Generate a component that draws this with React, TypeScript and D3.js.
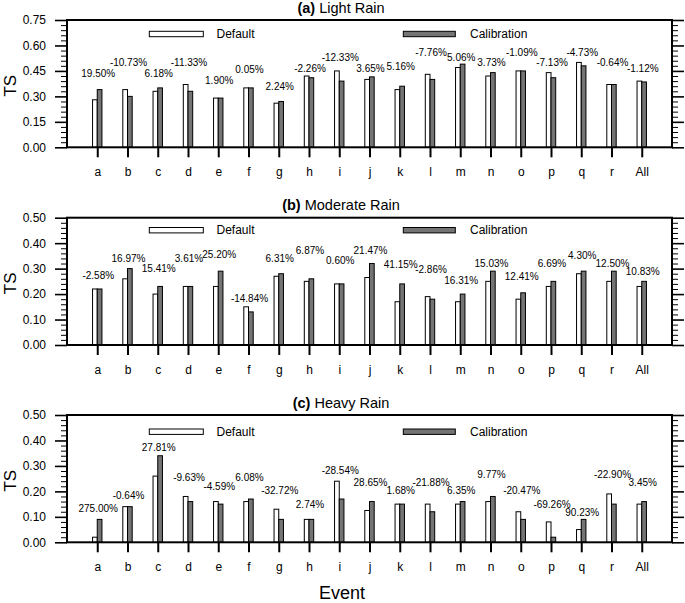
import React, { useEffect, useRef } from "react";
import { scaleLinear, scalePoint, axisLeft, axisRight, axisBottom, select, range, format } from "d3";

const width = 685;
const height = 603;
const FONT = "'Liberation Sans', Arial, Helvetica, sans-serif";

const plotLeft = 67;
const plotRight = 672;
const plotHeight = 127.3;
const panelTops = [20, 217.7, 415];
const legendOffsets = [14, 12.5, 16.7];

// data
const events = ["a", "b", "c", "d", "e", "f", "g", "h", "i", "j", "k", "l", "m", "n", "o", "p", "q", "r", "All"];

const lightDefault = [0.28, 0.34, 0.33, 0.37, 0.29, 0.35, 0.26, 0.42, 0.45, 0.40, 0.34, 0.43, 0.47, 0.42, 0.45, 0.44, 0.50, 0.37, 0.39];
const lightCalib = [0.34, 0.30, 0.35, 0.33, 0.29, 0.35, 0.27, 0.41, 0.39, 0.415, 0.36, 0.40, 0.49, 0.44, 0.45, 0.41, 0.48, 0.37, 0.385];
const lightChange = ["19.50%", "-10.73%", "6.18%", "-11.33%", "1.90%", "0.05%", "2.24%", "-2.26%", "-12.33%", "3.65%", "5.16%", "-7.76%", "5.06%", "3.73%", "-1.09%", "-7.13%", "-4.73%", "-0.64%", "-1.12%"];
const lightLabelY = [0.437, 0.502, 0.437, 0.502, 0.396, 0.461, 0.36, 0.467, 0.532, 0.467, 0.478, 0.561, 0.532, 0.502, 0.561, 0.502, 0.561, 0.502, 0.467];

const moderateDefault = [0.22, 0.26, 0.20, 0.23, 0.23, 0.15, 0.27, 0.25, 0.24, 0.265, 0.17, 0.19, 0.17, 0.25, 0.18, 0.23, 0.28, 0.25, 0.23];
const moderateCalib = [0.22, 0.30, 0.23, 0.23, 0.29, 0.13, 0.28, 0.26, 0.24, 0.32, 0.24, 0.18, 0.20, 0.29, 0.205, 0.25, 0.29, 0.29, 0.25];
const moderateChange = ["-2.58%", "16.97%", "15.41%", "3.61%", "25.20%", "-14.84%", "6.31%", "6.87%", "0.60%", "21.47%", "41.15%", "-2.86%", "16.31%", "15.03%", "12.41%", "6.69%", "4.30%", "12.50%", "10.83%"];
const moderateLabelY = [0.272, 0.338, 0.301, 0.338, 0.356, 0.183, 0.338, 0.373, 0.33, 0.373, 0.318, 0.295, 0.253, 0.319, 0.271, 0.319, 0.353, 0.319, 0.288];

const heavyDefault = [0.02, 0.14, 0.26, 0.18, 0.16, 0.16, 0.13, 0.09, 0.24, 0.125, 0.15, 0.15, 0.15, 0.16, 0.12, 0.08, 0.05, 0.19, 0.15];
const heavyCalib = [0.09, 0.14, 0.34, 0.16, 0.15, 0.17, 0.09, 0.09, 0.17, 0.16, 0.15, 0.12, 0.16, 0.18, 0.09, 0.02, 0.09, 0.15, 0.16];
const heavyChange = ["275.00%", "-0.64%", "27.81%", "-9.63%", "-4.59%", "6.08%", "-32.72%", "2.74%", "-28.54%", "28.65%", "1.68%", "-21.88%", "6.35%", "9.77%", "-20.47%", "-69.26%", "90.23%", "-22.90%", "3.45%"];
const heavyLabelY = [0.131, 0.183, 0.373, 0.254, 0.218, 0.254, 0.2015, 0.149, 0.281, 0.236, 0.2015, 0.236, 0.2015, 0.268, 0.2015, 0.149, 0.118, 0.268, 0.236];

const panelTags = ["(a)", "(b)", "(c)"];
const panelNames = ["Light Rain", "Moderate Rain", "Heavy Rain"];
const yMaxes = [0.75, 0.5, 0.5];
const majorSteps = [0.15, 0.1, 0.1];
const minorSteps = [0.03, 0.02, 0.02];

const panels = [
  { def: lightDefault, cal: lightCalib, change: lightChange, labelY: lightLabelY },
  { def: moderateDefault, cal: moderateCalib, change: moderateChange, labelY: moderateLabelY },
  { def: heavyDefault, cal: heavyCalib, change: heavyChange, labelY: heavyLabelY },
];

const barWidth = 4.7;
const calibFill = "#747474";

const xScale = scalePoint<string>().domain(events).range([plotLeft, plotRight]).padding(1);

const styleAxis = (g, size, strokeWidth) => {
  g.select(".domain").remove();
  g.attr("font-family", FONT).attr("font-size", size);
  g.selectAll("line").attr("stroke", "#000").attr("stroke-width", strokeWidth);
  g.selectAll("text").attr("fill", "#000");
};

const Panel = ({ idx }) => {
  const top = panelTops[idx];
  const bottom = top + plotHeight;
  const yMax = yMaxes[idx];
  const data = panels[idx];
  const yScale = scaleLinear().domain([0, yMax]).range([bottom, top]);

  const major = range(0, yMax + 1e-9, majorSteps[idx]);
  const minor = range(0, yMax + 1e-9, minorSteps[idx]).filter(
    (v) => !major.some((m) => Math.abs(m - v) < 1e-6)
  );

  const leftRef = useRef(null);
  const leftMinorRef = useRef(null);
  const rightRef = useRef(null);
  const rightMinorRef = useRef(null);
  const bottomRef = useRef(null);

  useEffect(() => {
    select(leftRef.current)
      .call(axisLeft(yScale).tickValues(major).tickSize(12).tickPadding(9).tickFormat(format(".2f")))
      .call((g) => styleAxis(g, 12, 1.6));
    select(leftMinorRef.current)
      .call(axisLeft(yScale).tickValues(minor).tickSize(6).tickFormat(() => ""))
      .call((g) => styleAxis(g, 12, 1));
    select(rightRef.current)
      .call(axisRight(yScale).tickValues(major).tickSize(12).tickFormat(() => ""))
      .call((g) => styleAxis(g, 12, 1.6));
    select(rightMinorRef.current)
      .call(axisRight(yScale).tickValues(minor).tickSize(6).tickFormat(() => ""))
      .call((g) => styleAxis(g, 12, 1));
    select(bottomRef.current)
      .call(axisBottom(xScale).tickSize(10).tickPadding(10.5).tickSizeOuter(0))
      .call((g) => styleAxis(g, 12, 2));
  }, []);

  const legendY = top + legendOffsets[idx];

  return (
    <g>
      {/* title */}
      <text x={341} y={top - 12.3} dy="0.35em" textAnchor="middle" fontSize={14.5} fontFamily={FONT}>
        <tspan fontWeight="bold">{panelTags[idx]}</tspan>
        <tspan> {panelNames[idx]}</tspan>
      </text>

      {/* y label */}
      <text
        transform={`translate(16,${(top + bottom) / 2 + 2}) rotate(-90)`}
        textAnchor="middle"
        fontSize={17}
        fontFamily={FONT}
      >
        TS
      </text>

      {/* bars */}
      {events.map((e, i) => (
        <g key={e}>
          <rect
            x={xScale(e) - barWidth}
            y={yScale(data.def[i])}
            width={barWidth}
            height={bottom - yScale(data.def[i])}
            fill="#fff"
            stroke="#000"
            strokeWidth={1}
          />
          <rect
            x={xScale(e)}
            y={yScale(data.cal[i])}
            width={barWidth}
            height={bottom - yScale(data.cal[i])}
            fill={calibFill}
            stroke="#000"
            strokeWidth={1}
          />
          <text
            x={xScale(e) + 1}
            y={yScale(data.labelY[i])}
            dy="0.35em"
            textAnchor="middle"
            fontSize={10}
            fontFamily={FONT}
          >
            {data.change[i]}
          </text>
        </g>
      ))}

      {/* legend */}
      <rect x={149.3} y={legendY - 2.7} width={54} height={5.4} fill="#fff" stroke="#000" strokeWidth={1} />
      <text x={216.5} y={legendY} dy="0.35em" fontSize={12} fontFamily={FONT}>
        Default
      </text>
      <rect x={403.3} y={legendY - 2.7} width={52} height={5.4} fill={calibFill} stroke="#000" strokeWidth={1} />
      <text x={470} y={legendY} dy="0.35em" fontSize={12} fontFamily={FONT}>
        Calibration
      </text>

      {/* axes */}
      <g ref={leftRef} transform={`translate(${plotLeft},0)`} />
      <g ref={leftMinorRef} transform={`translate(${plotLeft},0)`} />
      <g ref={rightRef} transform={`translate(${plotRight},0)`} />
      <g ref={rightMinorRef} transform={`translate(${plotRight},0)`} />
      <g ref={bottomRef} transform={`translate(0,${bottom})`} />

      <rect
        x={plotLeft}
        y={top}
        width={plotRight - plotLeft}
        height={plotHeight}
        fill="none"
        stroke="#000"
        strokeWidth={2}
      />
    </g>
  );
};

export default function App() {
  return (
    <svg
      width={width}
      height={height}
      style={{ position: "absolute", left: 0, top: 0, background: "#fff" }}
    >
      <rect width={width} height={height} fill="#fff" />
      {[0, 1, 2].map((i) => (
        <Panel key={i} idx={i} />
      ))}
      <text x={342} y={599} textAnchor="middle" fontSize={18} fontFamily={FONT}>
        Event
      </text>
    </svg>
  );
}
